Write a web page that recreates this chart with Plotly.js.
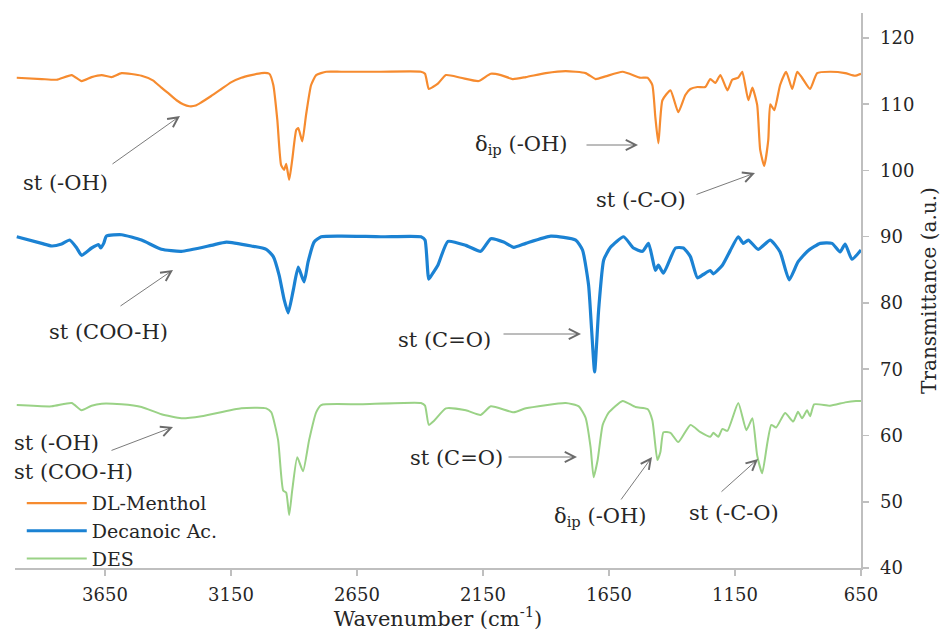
<!DOCTYPE html>
<html>
<head>
<meta charset="utf-8">
<script src="https://cdn.plot.ly/plotly-3.0.1.min.js"></script>
<style>html,body{margin:0;padding:0;background:#fff;}#chart{width:943px;height:631px;}</style>
</head>
<body>
<div id="chart"></div>
<script>
// ---- Data ----
const mentholWN = [4000,3901,3842,3782,3743,3703,3663,3624,3584,3505,3460,3426,3400,3366,3340,3315,3290,3267,3230,3188,3150,3109,3030,2998,2982,2966,2951,2939,2931,2919,2907,2891,2883,2867,2852,2832,2812,2772,2713,2555,2396,2380,2365,2349,2329,2297,2238,2167,2119,2079,2032,1980,1901,1822,1743,1703,1664,1596,1525,1497,1478,1466,1454,1438,1406,1375,1347,1327,1299,1268,1248,1228,1208,1180,1161,1137,1121,1097,1081,1062,1050,1034,1018,1010,994,971,947,923,903,884,852,824,773,713,674,650];
const mentholT = [114.0,113.8,113.7,114.4,113.5,114.1,114.4,114.1,114.7,114.3,113.6,112.5,111.7,110.6,110.0,109.7,109.8,110.3,111.2,112.3,113.3,114.0,114.7,114.6,112.9,107.6,100.8,100.1,101.0,98.6,101.6,106.1,106.4,104.4,108.4,112.9,114.4,114.9,114.9,114.9,114.9,114.6,112.3,112.6,113.1,114.4,114.0,113.5,114.6,114.4,113.8,114.1,114.7,115.0,114.7,113.8,114.2,114.9,114.0,114.0,112.9,108.0,104.1,110.6,112.1,108.8,111.4,112.3,112.6,112.6,113.8,113.2,114.4,112.1,113.7,114.0,114.9,110.6,112.5,109.9,103.1,100.7,104.6,110.0,109.1,112.9,114.9,112.3,114.9,114.0,112.3,114.7,114.9,114.7,114.3,114.6];

const decanoicWN = [4000,3901,3861,3822,3790,3762,3743,3703,3675,3667,3655,3644,3584,3505,3426,3347,3228,3168,3069,3010,2982,2959,2939,2923,2903,2883,2860,2844,2820,2792,2713,2555,2396,2380,2365,2349,2329,2289,2218,2159,2119,2068,2028,1980,1881,1782,1755,1731,1719,1707,1691,1671,1644,1592,1553,1517,1493,1466,1454,1434,1386,1355,1327,1299,1276,1248,1236,1200,1169,1137,1117,1097,1058,1010,971,935,900,860,812,765,733,713,686,650];
const decanoicT = [90.0,89.0,88.6,88.9,89.5,88.3,87.2,88.3,88.8,88.3,89.0,90.1,90.3,89.5,88.1,87.8,88.7,89.2,88.6,88.1,87.0,84.2,80.5,78.5,81.9,85.4,83.2,86.2,89.2,90.0,90.1,90.0,90.0,89.5,83.6,84.5,85.7,89.3,88.7,87.8,89.7,89.2,88.4,89.0,90.1,89.5,88.0,82.7,76.0,69.6,79.0,86.5,88.4,90.0,88.3,87.8,89.0,84.9,85.7,84.5,88.3,88.3,87.0,83.8,84.3,84.9,84.4,85.7,87.9,90.0,89.0,89.5,88.1,89.5,87.7,83.5,86.2,87.9,89.0,89.0,87.7,88.9,86.6,88.0];

const desWN = [4000,3861,3782,3743,3703,3663,3584,3505,3426,3347,3267,3109,3010,2990,2963,2943,2931,2919,2907,2887,2864,2840,2812,2792,2634,2396,2380,2365,2345,2297,2218,2159,2119,2028,1980,1822,1770,1743,1723,1711,1695,1675,1652,1596,1545,1497,1478,1458,1446,1434,1406,1375,1327,1287,1248,1236,1216,1200,1180,1137,1105,1081,1062,1042,1022,1006,987,951,919,900,884,864,852,836,773,713,670,650];
const desT = [64.6,64.4,64.9,63.8,64.5,64.8,64.7,64.3,63.2,62.6,62.9,64.1,64.1,63.5,59.3,51.7,51.4,48.0,51.7,56.7,54.6,59.3,63.5,64.6,64.7,64.9,64.5,61.6,62.2,64.1,63.8,63.1,64.4,63.5,64.1,64.9,64.4,62.7,58.2,53.7,56.3,61.6,63.4,65.2,64.3,64.0,62.3,56.3,57.5,60.5,60.4,59.0,61.6,60.5,59.8,60.4,59.8,61.0,60.7,64.9,60.8,62.6,57.0,54.3,58.8,61.6,61.2,63.4,62.1,63.6,62.6,63.8,62.9,64.7,64.5,65.0,65.2,65.2];

const seriesNames = ['DL-Menthol','Decanoic Ac.','DES'];
const xTicks = [3650,3150,2650,2150,1650,1150,650];
const yTicks = [40,50,60,70,80,90,100,110,120];

// ---- Layout helpers (pixel -> paper coordinates for label placement) ----
const X0 = 4007, X1 = 650, Y0 = 40, Y1 = 123.77;
const L = 15, R = 861, T = 13, B = 568;
const xp = px => (px - L) / (R - L);
const yp = py => (B - py) / (B - T);

const serif = 'DejaVu Serif';
const txtColor = '#262626';

const labels = [
  {t:'st (-OH)', x:65, y:183},
  {t:'δ<sub>ip</sub> (-OH)', x:521, y:145},
  {t:'st (-C-O)', x:641, y:200},
  {t:'st (COO-H)', x:108, y:332},
  {t:'st (C=O)', x:444, y:340},
  {t:'st (-OH)', x:12, y:443, left:true},
  {t:'st (COO-H)', x:12, y:472, left:true},
  {t:'st (C=O)', x:456, y:458},
  {t:'δ<sub>ip</sub> (-OH)', x:600, y:517},
  {t:'st (-C-O)', x:734, y:513}
];
// [tailX, tailY, headX, headY] in pixels
const arrows = [
  [111,165,180,116],
  [585,145,638,145],
  [695,195,755,173],
  [119,307,173,270],
  [502,334,581,334],
  [110,451,173,427],
  [507,457,577,457],
  [620,501,652,457],
  [720,493,758,459]
];

const annotations = [];
labels.forEach(l => annotations.push({
  x: xp(l.x), y: yp(l.y), xref:'paper', yref:'paper', text:l.t, showarrow:false,
  xanchor: l.left ? 'left' : 'center', yanchor:'middle',
  font:{family:serif, size:21, color:txtColor}
}));
arrows.forEach(a => annotations.push({
  x: xp(a[2]), y: yp(a[3]), ax: a[0]-a[2], ay: a[1]-a[3],
  xref:'paper', yref:'paper', axref:'pixel', ayref:'pixel', text:'', showarrow:true,
  arrowhead:5, arrowsize:2.2, arrowwidth:0.9, arrowcolor:'#6b6b6b', standoff:0, startstandoff:0
}));

const traces = [
  {x: mentholWN, y: mentholT, name: seriesNames[0], mode:'lines', line:{color:'#F68B2F', width:2.2, shape:'spline', smoothing:0.5}},
  {x: decanoicWN, y: decanoicT, name: seriesNames[1], mode:'lines', line:{color:'#1B82D3', width:3.2, shape:'spline', smoothing:0.5}},
  {x: desWN, y: desT, name: seriesNames[2], mode:'lines', line:{color:'#9AD286', width:2, shape:'spline', smoothing:0.5}}
];

const layout = {
  width:943, height:631,
  font:{family:serif, color:txtColor},
  margin:{l:L, r:943-R, t:T, b:631-B, pad:0},
  paper_bgcolor:'#fff', plot_bgcolor:'#fff',
  showlegend:true,
  legend:{x:0.008, y:0.151, xanchor:'left', yanchor:'top', bgcolor:'rgba(0,0,0,0)',
          font:{family:serif, size:19, color:txtColor}, itemwidth:60, tracegroupgap:0},
  xaxis:{
    range:[X0, X1], tickvals:xTicks, ticktext:xTicks.map(String),
    showgrid:false, zeroline:false, showline:true, linecolor:'#BFBFBF', linewidth:1.5,
    ticks:'outside', ticklen:6, tickcolor:'#BFBFBF', tickwidth:1.5,
    tickfont:{family:serif, size:18, color:txtColor}, ticklabelstandoff:4,
    title:{text:'Wavenumber (cm<sup>-1</sup>)', font:{family:serif, size:21, color:txtColor}, standoff:8}
  },
  yaxis:{
    range:[Y0, Y1], side:'right', tickvals:yTicks, ticktext:yTicks.map(String),
    showgrid:false, zeroline:false, showline:true, linecolor:'#BFBFBF', linewidth:1.5,
    ticks:'outside', ticklen:6, tickcolor:'#BFBFBF', tickwidth:1.5,
    tickfont:{family:serif, size:18, color:txtColor}, ticklabelstandoff:8,
    title:{text:'Transmittance (a.u.)', font:{family:serif, size:20, color:txtColor}, standoff:8}
  },
  annotations: annotations
};

Plotly.newPlot('chart', traces, layout, {displayModeBar:false, staticPlot:true});
</script>
</body>
</html>
